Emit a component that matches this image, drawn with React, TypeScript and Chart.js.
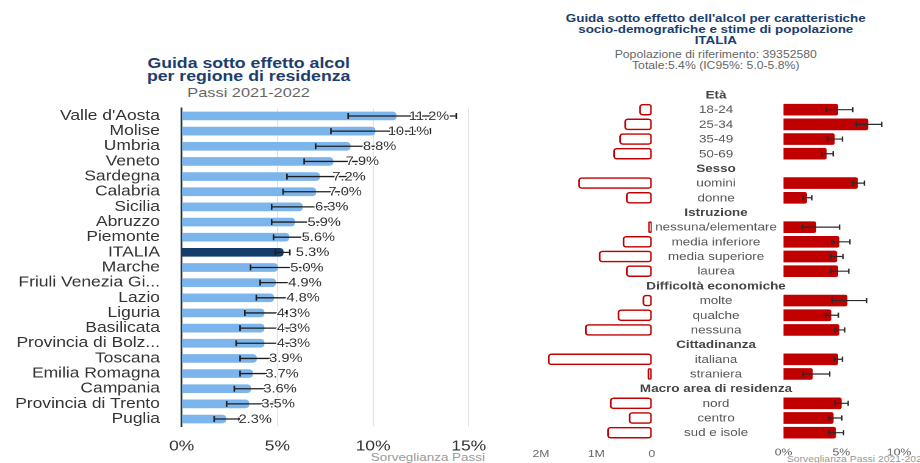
import React, { useEffect, useRef } from "react";
import { Chart, registerables } from "chart.js";

Chart.register(...registerables);

const FAMILY = "'Liberation Sans', Arial, Helvetica, sans-serif";
const STRETCH = 1.22;

// ---------- Left chart: per regione ----------
const regionLabels = [
  "Valle d'Aosta", "Molise", "Umbria", "Veneto", "Sardegna", "Calabria", "Sicilia",
  "Abruzzo", "Piemonte", "ITALIA", "Marche", "Friuli Venezia Gi...", "Lazio", "Liguria",
  "Basilicata", "Provincia di Bolz...", "Toscana", "Emilia Romagna", "Campania",
  "Provincia di Trento", "Puglia",
];
const regionValues = [11.2, 10.1, 8.8, 7.9, 7.2, 7.0, 6.3, 5.9, 5.6, 5.3, 5.0, 4.9, 4.8, 4.3, 4.3, 4.3, 3.9, 3.7, 3.6, 3.5, 2.3];
const regionLow = [8.7, 7.8, 7.0, 6.4, 5.5, 5.3, 4.7, 4.7, 4.8, 4.9, 3.6, 4.1, 3.9, 3.3, 3.05, 2.85, 3.05, 3.05, 2.75, 2.35, 1.7];
const regionHigh = [14.35, 13.0, 10.9, 9.6, 9.2, 9.0, 8.2, 7.3, 6.5, 5.65, 6.6, 5.8, 5.8, 5.5, 5.7, 6.0, 4.9, 4.5, 4.6, 4.8, 3.0];
const leftTickStep = 5;
const leftMax = 15;

// ---------- Right panel: caratteristiche ----------
const rowLabels = [
  "Età", "18-24", "25-34", "35-49", "50-69",
  "Sesso", "uomini", "donne",
  "Istruzione", "nessuna/elementare", "media inferiore", "media superiore", "laurea",
  "Difficoltà economiche", "molte", "qualche", "nessuna",
  "Cittadinanza", "italiana", "straniera",
  "Macro area di residenza", "nord", "centro", "sud e isole",
];
const headerRows = [0, 5, 8, 13, 17, 20];
const popValues = [
  null, 220000, 490000, 580000, 690000,
  null, 1320000, 460000,
  null, 60000, 520000, 950000, 460000,
  null, 160000, 610000, 1200000,
  null, 1870000, 70000,
  null, 750000, 410000, 800000,
];
const pctValues = [
  null, 4.7, 7.3, 4.4, 3.7,
  null, 6.4, 2.0,
  null, 2.8, 4.8, 4.6, 4.7,
  null, 5.5, 4.1, 4.8,
  null, 4.7, 2.5,
  null, 5.0, 4.3, 4.5,
];
const pctLow = [
  null, 3.7, 6.3, 3.8, 3.3,
  null, 6.0, 1.7,
  null, 1.6, 4.2, 4.1, 4.1,
  null, 4.2, 3.65, 4.45,
  null, 4.4, 1.7,
  null, 4.45, 3.95, 3.95,
];
const pctHigh = [
  null, 6.0, 8.5, 5.1, 4.3,
  null, 7.0, 2.45,
  null, 4.85, 5.75, 5.15, 5.65,
  null, 7.2, 4.75, 5.3,
  null, 5.1, 4.0,
  null, 5.6, 5.05, 5.2,
];
const popMax = 2000000;
const popStep = 1000000;
const pctMax = 10;
const pctStep = 5;

const LIGHT_BLUE = "#7cb5ec";
const DARK_BLUE = "#143d6c";
const RED = "#c00000";
const TITLE_BLUE = "#1b3e6f";

const leftOverlay = {
  id: "leftOverlay",
  afterDatasetsDraw(chart: any) {
    const { ctx, scales } = chart;
    const x = scales.x;
    const y = scales.y;
    ctx.save();
    ctx.strokeStyle = "#1e1e1e";
    ctx.lineWidth = 1.3;
    regionValues.forEach((_v, i) => {
      const py = y.getPixelForValue(i);
      const x1 = x.getPixelForValue(regionLow[i]);
      const x2 = x.getPixelForValue(regionHigh[i]);
      ctx.beginPath();
      ctx.moveTo(x1, py);
      ctx.lineTo(x2, py);
      ctx.moveTo(x1, py - 3);
      ctx.lineTo(x1, py + 3);
      ctx.moveTo(x2, py - 3);
      ctx.lineTo(x2, py + 3);
      ctx.stroke();
    });
    ctx.font = `12px ${FAMILY}`;
    ctx.textBaseline = "middle";
    ctx.textAlign = "left";
    ctx.lineJoin = "round";
    regionValues.forEach((v, i) => {
      const tx = x.getPixelForValue(v) + 10.5;
      const ty = y.getPixelForValue(i) + 0.5;
      const t = v.toFixed(1) + "%";
      ctx.strokeStyle = "#ffffff";
      ctx.lineWidth = 2.2;
      ctx.strokeText(t, tx, ty);
      ctx.fillStyle = "#333";
      ctx.fillText(t, tx, ty);
    });
    ctx.restore();
  },
};

const pctOverlay = {
  id: "pctOverlay",
  afterDatasetsDraw(chart: any) {
    const { ctx, scales } = chart;
    const x = scales.x;
    const y = scales.y;
    ctx.save();
    ctx.strokeStyle = "#2a2a2a";
    ctx.lineWidth = 1.2;
    pctValues.forEach((v, i) => {
      if (v === null) return;
      const py = y.getPixelForValue(i);
      const x1 = x.getPixelForValue(pctLow[i] as number);
      const x2 = x.getPixelForValue(pctHigh[i] as number);
      ctx.beginPath();
      ctx.moveTo(x1, py);
      ctx.lineTo(x2, py);
      ctx.moveTo(x1, py - 2.6);
      ctx.lineTo(x1, py + 2.6);
      ctx.moveTo(x2, py - 2.6);
      ctx.lineTo(x2, py + 2.6);
      ctx.stroke();
    });
    // centre labels
    const cx = 66.9;
    ctx.textAlign = "center";
    ctx.textBaseline = "middle";
    rowLabels.forEach((lab, i) => {
      const isHeader = headerRows.includes(i);
      ctx.font = `${isHeader ? "bold " : ""}11px ${FAMILY}`;
      ctx.fillStyle = isHeader ? "#444" : "#555";
      ctx.fillText(lab, cx, y.getPixelForValue(i) + 0.5);
    });
    ctx.restore();
  },
};

export default function App() {
  const leftRef = useRef<HTMLCanvasElement>(null);
  const popRef = useRef<HTMLCanvasElement>(null);
  const pctRef = useRef<HTMLCanvasElement>(null);

  useEffect(() => {
    Chart.defaults.font.family = FAMILY;
    const charts: Chart[] = [];

    if (leftRef.current) {
      charts.push(
        new Chart(leftRef.current, {
          type: "bar",
          data: {
            labels: regionLabels,
            datasets: [
              {
                data: regionValues,
                backgroundColor: regionLabels.map((r) => (r === "ITALIA" ? DARK_BLUE : LIGHT_BLUE)),
                barThickness: 8,
                borderRadius: 3,
              },
            ],
          },
          options: {
            indexAxis: "y",
            animation: false,
            responsive: false,
            devicePixelRatio: 2,
            layout: { padding: { top: 8.4, right: 23.4, bottom: 0, left: 0 } },
            plugins: { legend: { display: false }, tooltip: { enabled: false } },
            scales: {
              x: {
                min: 0,
                max: leftMax,
                ticks: {
                  stepSize: leftTickStep,
                  callback: (v: any) => v + "%",
                  font: { size: 14.3, family: FAMILY },
                  color: "#333",
                  padding: 11.5,
                },
                grid: {
                  color: (c: any) => (c.tick && c.tick.value === 0 ? "rgba(0,0,0,0)" : "#e3e3e3"),
                  drawTicks: false,
                  lineWidth: 1,
                },
                border: { display: false },
                afterFit: (s: any) => {
                  s.height = 36.4;
                },
              },
              y: {
                ticks: {
                  autoSkip: false,
                  font: { size: 14.3, family: FAMILY },
                  color: "#333",
                  padding: 17.8,
                },
                grid: { display: false, drawTicks: false },
                border: { display: true, color: "#333", width: 1.5 },
                afterFit: (s: any) => {
                  s.width = 148.9;
                  s.paddingTop = 0;
                  s.paddingBottom = 0;
                },
              },
            },
          },
          plugins: [leftOverlay],
        } as any)
      );
    }

    if (popRef.current) {
      charts.push(
        new Chart(popRef.current, {
          type: "bar",
          data: {
            labels: rowLabels,
            datasets: [
              {
                data: popValues,
                backgroundColor: "#ffffff",
                borderColor: RED,
                borderWidth: 1.5,
                borderSkipped: false,
                borderRadius: 3,
                barThickness: 11,
              },
            ],
          },
          options: {
            indexAxis: "y",
            animation: false,
            responsive: false,
            devicePixelRatio: 2,
            layout: { padding: { top: 7.66, right: 9.5, bottom: 0, left: 23.4 } },
            plugins: { legend: { display: false }, tooltip: { enabled: false } },
            scales: {
              x: {
                reverse: true,
                min: 0,
                max: popMax,
                ticks: {
                  stepSize: popStep,
                  callback: (v: any) => (v === 0 ? "0" : v / 1000000 + "M"),
                  font: { size: 10, family: FAMILY },
                  color: "#666",
                  padding: 8,
                },
                grid: { display: false, drawTicks: false },
                border: { display: false },
                afterFit: (s: any) => {
                  s.height = 22.96;
                },
              },
              y: { display: false },
            },
          },
        } as any)
      );
    }

    if (pctRef.current) {
      charts.push(
        new Chart(pctRef.current, {
          type: "bar",
          data: {
            labels: rowLabels,
            datasets: [
              {
                data: pctValues,
                backgroundColor: RED,
                borderRadius: 2,
                barThickness: 11,
              },
            ],
          },
          options: {
            indexAxis: "y",
            animation: false,
            responsive: false,
            devicePixelRatio: 2,
            layout: { padding: { top: 7.66, right: 17.1, bottom: 0, left: 122.2 } },
            plugins: { legend: { display: false }, tooltip: { enabled: false } },
            scales: {
              x: {
                min: 0,
                max: pctMax,
                ticks: {
                  stepSize: pctStep,
                  callback: (v: any) => v + "%",
                  font: { size: 10, family: FAMILY },
                  color: "#666",
                  padding: 6.7,
                },
                grid: { display: false, drawTicks: false },
                border: { display: false },
                afterFit: (s: any) => {
                  s.height = 22.96;
                },
              },
              y: { display: false },
            },
          },
          plugins: [pctOverlay],
        } as any)
      );
    }

    return () => {
      charts.forEach((c) => c.destroy());
    };
  }, []);

  return (
    <div
      style={{
        position: "absolute",
        left: 0,
        top: 0,
        width: 920 / STRETCH,
        height: 463,
        overflow: "hidden",
        transform: `scaleX(${STRETCH})`,
        transformOrigin: "0 0",
        background: "#ffffff",
        fontFamily: FAMILY,
      }}
    >
      {/* Left titles */}
      <div
        style={{
          position: "absolute",
          left: 203.8 - 150,
          width: 300,
          top: 56.5,
          textAlign: "center",
          fontSize: 14.5,
          fontWeight: "bold",
          lineHeight: "13.4px",
          color: TITLE_BLUE,
          whiteSpace: "nowrap",
        }}
      >
        Guida sotto effetto alcol
        <br />
        per regione di residenza
      </div>
      <div
        style={{
          position: "absolute",
          left: 203.8 - 150,
          width: 300,
          top: 85,
          textAlign: "center",
          fontSize: 13.4,
          lineHeight: "15px",
          color: "#666",
          whiteSpace: "nowrap",
        }}
      >
        Passi 2021-2022
      </div>
      <div
        style={{
          position: "absolute",
          left: 397.5 - 200,
          width: 200,
          top: 451,
          textAlign: "right",
          fontSize: 11,
          lineHeight: "13px",
          color: "#999",
          whiteSpace: "nowrap",
        }}
      >
        Sorveglianza Passi
      </div>

      {/* Right titles */}
      <div
        style={{
          position: "absolute",
          left: 586.7 - 160,
          width: 320,
          top: 12.8,
          textAlign: "center",
          fontSize: 11,
          fontWeight: "bold",
          lineHeight: "10.9px",
          color: TITLE_BLUE,
          whiteSpace: "nowrap",
        }}
      >
        Guida sotto effetto dell'alcol per caratteristiche
        <br />
        socio-demografiche e stime di popolazione
        <br />
        ITALIA
      </div>
      <div
        style={{
          position: "absolute",
          left: 586.7 - 160,
          width: 320,
          top: 48.5,
          textAlign: "center",
          fontSize: 10,
          lineHeight: "11px",
          color: "#666",
          whiteSpace: "nowrap",
        }}
      >
        Popolazione di riferimento: 39352580
        <br />
        Totale:5.4% (IC95%: 5.0-5.8%)
      </div>
      <div
        style={{
          position: "absolute",
          left: 645,
          top: 454,
          fontSize: 8.5,
          lineHeight: "10px",
          color: "#999",
          whiteSpace: "nowrap",
        }}
      >
        Sorveglianza Passi 2021-2022
      </div>

      <canvas
        ref={leftRef}
        width={410}
        height={363}
        style={{ position: "absolute", left: 0, top: 100, width: 410, height: 363 }}
      />
      <canvas
        ref={popRef}
        width={125}
        height={383}
        style={{ position: "absolute", left: 420, top: 80, width: 125, height: 383 }}
      />
      <canvas
        ref={pctRef}
        width={234}
        height={383}
        style={{ position: "absolute", left: 520, top: 80, width: 234, height: 383 }}
      />
    </div>
  );
}
